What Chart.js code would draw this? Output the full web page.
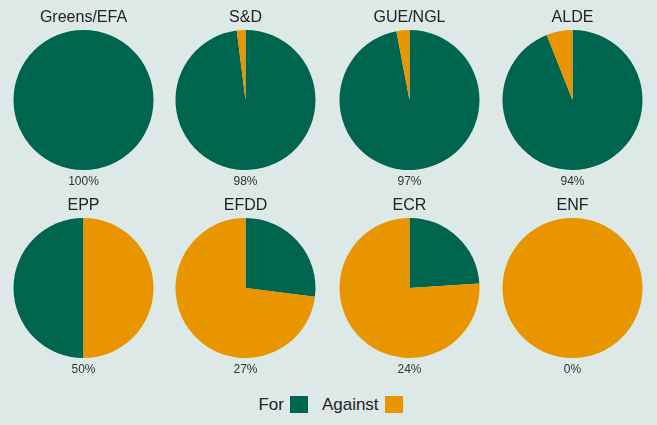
<!DOCTYPE html>
<html>
<head>
<meta charset="utf-8">
<script src="https://cdn.jsdelivr.net/npm/chart.js@4"></script>
<style>
    html, body {
        margin: 0;
        padding: 0;
        background: #dde9e6;
        width: 657px;
        height: 425px;
        overflow: hidden;
        font-family: "Liberation Sans", Arial, sans-serif;
    }
    .cell {
        position: absolute;
        width: 163px;
        height: 190px;
    }
    .legend {
        position: absolute;
        left: 2px;
        width: 657px;
        top: 396px;
        text-align: center;
        font-size: 17px;
        color: #222;
        line-height: 18px;
    }
    .legend span.box {
        display: inline-block;
        width: 18px;
        height: 17px;
        vertical-align: top;
        margin-left: 6px;
        margin-right: 14px;
    }
    .legend span.box.last {
        margin-right: 0;
    }
</style>
</head>
<body>
<div id="charts"></div>
<div class="legend">For<span class="box" style="background:#00654f"></span>Against<span class="box last" style="background:#e89500"></span></div>
<script>
// 数据
const groups = ['Greens/EFA', 'S&D', 'GUE/NGL', 'ALDE', 'EPP', 'EFDD', 'ECR', 'ENF'];
const forShare = [100, 98, 97, 94, 50, 27, 24, 0];
const againstShare = [0, 2, 3, 6, 50, 73, 76, 100];
const seriesNames = ['For', 'Against'];

const colFor = '#00654f';
const colAgainst = '#e89500';

// 网格位置
const colLeft = [2, 164, 328, 491];
const rowTop = [0, 188];

const fontFamily = '"Liberation Sans", Arial, sans-serif';
const container = document.getElementById('charts');

groups.forEach((name, i) => {
    const cell = document.createElement('div');
    cell.className = 'cell';
    cell.style.left = colLeft[i % 4] + 'px';
    cell.style.top = rowTop[Math.floor(i / 4)] + 'px';
    const canvas = document.createElement('canvas');
    canvas.width = 163;
    canvas.height = 190;
    cell.appendChild(canvas);
    container.appendChild(cell);

    new Chart(canvas, {
        type: 'pie',
        data: {
            labels: seriesNames,
            datasets: [{
                data: [forShare[i], againstShare[i]],
                backgroundColor: [colFor, colAgainst],
                borderWidth: 0
            }]
        },
        options: {
            responsive: false,
            animation: false,
            // EPP 在原图中 For 在左半边
            rotation: name === 'EPP' ? 180 : 0,
            layout: { padding: 0 },
            plugins: {
                legend: { display: false },
                tooltip: { enabled: false },
                title: {
                    display: true,
                    text: name,
                    color: '#222',
                    font: { family: fontFamily, size: 16, weight: 'normal' },
                    padding: { top: 8, bottom: 2.8 }
                },
                subtitle: {
                    display: true,
                    position: 'bottom',
                    text: forShare[i] + '%',
                    color: '#333',
                    font: { family: fontFamily, size: 12, weight: 'normal' },
                    padding: { top: 4, bottom: 1.6 }
                }
            }
        }
    });
});
</script>
</body>
</html>
